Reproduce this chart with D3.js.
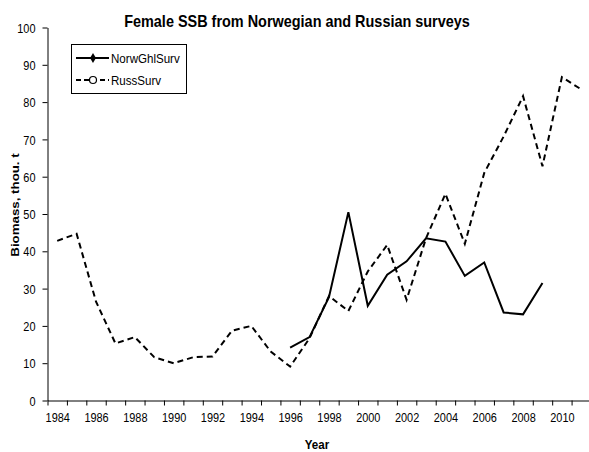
<!DOCTYPE html>
<html><head><meta charset="utf-8">
<script src="https://cdn.jsdelivr.net/npm/d3@7"></script>
<style>
html,body{margin:0;padding:0;background:#fff;}
text{font-family:"Liberation Sans",Arial,sans-serif;fill:#000;}
</style></head>
<body>
<svg id="chart" width="589" height="452"></svg>
<script>
const years = d3.range(1984, 2012);
const russSurv = [42.8, 44.7, 26.5, 15.3, 17.0, 11.6, 10.0, 11.6, 11.8, 18.7, 20.0, 13.1, 9.1, 16.7,
                  28.0, 24.0, 34.6, 41.7, 27.0, 43.5, 55.4, 42.0, 61.0, 70.8, 81.6, 62.8, 86.7, 83.4];
const norwYears = d3.range(1996, 2010);
const norwGhlSurv = [14.2, 17.0, 27.7, 50.5, 25.4, 33.7, 37.3, 43.5, 42.6, 33.4, 37.0, 23.6, 23.1, 31.5];
const yTicks = d3.range(0, 101, 10);
const xLabelYears = years.filter(y => y % 2 === 0);
const seriesNames = ["NorwGhlSurv", "RussSurv"];
const title = "Female SSB from Norwegian and Russian surveys";
const xTitle = "Year";
const yTitle = "Biomass, thou. t";

const SX = 0.87;  // horizontal text compression seen in the reference
const TSX = 0.81; // tick labels look a little narrower still
const svg = d3.select("#chart");
const x = d3.scaleLinear().domain([1983.5, 2011.5]).range([47.5, 591]);
const y = d3.scaleLinear().domain([0, 100]).range([400.5, 27.5]);

// axes
const gy = svg.append("g").attr("transform", "translate(47.5,0)")
  .call(d3.axisLeft(y).tickValues(yTicks).tickSize(5).tickPadding(7).tickSizeOuter(0));
gy.selectAll("text").attr("font-size", 13.5).attr("transform", `scale(${TSX},1)`)
  .attr("x", -12 / TSX).attr("dy", "0.34em");

const gx = svg.append("g").attr("transform", "translate(0,400.5)")
  .call(d3.axisBottom(x).tickValues(years.map(v => v - 0.5).concat([2011.5])).tickFormat("").tickSize(5).tickSizeOuter(0));
const gxl = svg.append("g").attr("transform", "translate(0,400.5)")
  .call(d3.axisBottom(x).tickValues(xLabelYears).tickFormat(d3.format("d")).tickSize(0));
gxl.select(".domain").remove();
gxl.selectAll("text").attr("font-size", 13.5).attr("y", 12).attr("dy", "0.71em")
  .attr("transform", `scale(${TSX},1)`);
svg.selectAll(".domain, .tick line").attr("stroke", "#000").attr("stroke-width", 1);

// lines
const line = d3.line().x(d => x(d[0])).y(d => y(d[1]));
svg.append("path").datum(years.map((yr, i) => [yr, russSurv[i]]))
  .attr("d", line).attr("fill", "none").attr("stroke", "#000")
  .attr("stroke-width", 2).attr("stroke-dasharray", "6,4");
svg.append("path").datum(norwYears.map((yr, i) => [yr, norwGhlSurv[i]]))
  .attr("d", line).attr("fill", "none").attr("stroke", "#000")
  .attr("stroke-width", 2);

// titles
svg.append("text").attr("transform", `translate(297,27) scale(${SX},1)`)
  .attr("text-anchor", "middle").attr("font-size", 16.6).attr("font-weight", "bold").text(title);
svg.append("text").attr("transform", `translate(317,449) scale(${SX},1)`)
  .attr("text-anchor", "middle").attr("font-size", 13.3).attr("font-weight", "bold").text(xTitle);
svg.append("text").attr("transform", `translate(18.5,205) rotate(-90) scale(1,${SX})`)
  .attr("text-anchor", "middle").attr("font-size", 13.3).attr("font-weight", "bold").text(yTitle);

// legend
const lg = svg.append("g");
lg.append("rect").attr("x", 71.5).attr("y", 44.5).attr("width", 115).attr("height", 49)
  .attr("fill", "#fff").attr("stroke", "#000").attr("stroke-width", 1);
const ly = [58, 80];
seriesNames.forEach((name, i) => {
  const g = lg.append("g").attr("transform", `translate(0,${ly[i]})`);
  g.append("line").attr("x1", 76).attr("x2", 109).attr("y1", 0).attr("y2", 0)
    .attr("stroke", "#000").attr("stroke-width", 2)
    .attr("stroke-dasharray", i === 1 ? "5,3" : null);
  if (i === 0) {
    g.append("path").attr("d", d3.symbol(d3.symbolDiamond, 30)()).attr("transform", "translate(93,0)")
      .attr("fill", "#000");
  } else {
    g.append("circle").attr("cx", 93).attr("cy", 0).attr("r", 3.5)
      .attr("fill", "#fff").attr("stroke", "#000").attr("stroke-width", 1.2);
  }
  g.append("text").attr("transform", `translate(111,0) scale(${SX},1)`)
    .attr("dy", "0.35em").attr("font-size", 13.3).text(name);
});
</script>
</body></html>
